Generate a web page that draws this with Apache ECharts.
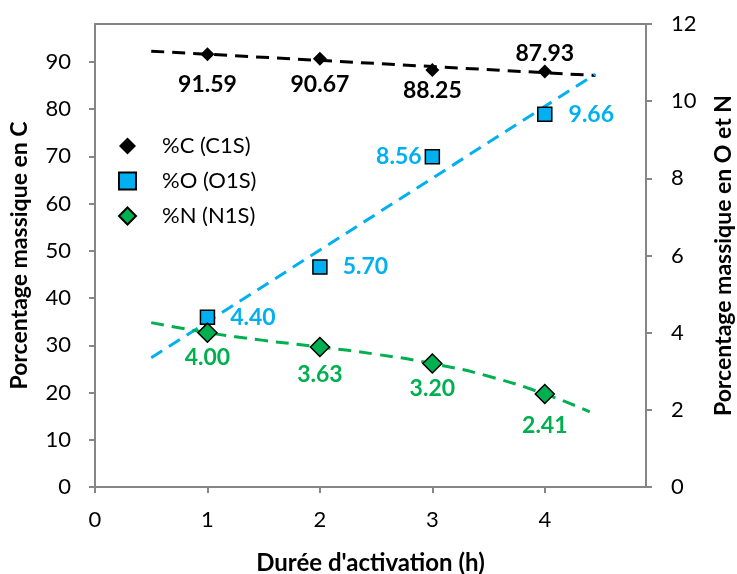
<!DOCTYPE html>
<html>
<head>
<meta charset="utf-8">
<script src="https://cdn.jsdelivr.net/npm/echarts@6/dist/echarts.min.js"></script>
<style>
html,body{margin:0;padding:0;background:#fff;}
#chart{width:737px;height:574px;}
</style>
</head>
<body>
<div id="chart"></div>
<script>
// ---- data ----
var hours = [1, 2, 3, 4];
var carbon = [91.59, 90.67, 88.25, 87.93];
var oxygen = [4.40, 5.70, 8.56, 9.66];
var nitrogen = [4.00, 3.63, 3.20, 2.41];
// trend lines
var trendCX = [0.5, 4.45];
var trendC = [92.25, 87.1];
var trendOX = [0.5, 4.45];
var trendO = [3.35, 10.7];
var trendNX = [0.5, 1, 1.5, 2, 2.5, 3, 3.5, 4, 4.4];
var trendN = [4.26, 4.00, 3.80, 3.63, 3.44, 3.20, 2.87, 2.41, 1.95];
var xTicks = [0, 1, 2, 3, 4];
var leftTicks = [0, 10, 20, 30, 40, 50, 60, 70, 80, 90];
var legendNames = ['%C (C1S)', '%O (O1S)', '%N (N1S)'];

var FONT = 'Lato';
var BLUE = '#00B0F0', GREEN = '#00B050';
var AX = '#868686';

function pairs(xs, ys){ return xs.map(function(x,i){ return [x, ys[i]]; }); }

var cLabel = [
  {position:'bottom', distance:12},
  {position:'bottom', distance:7},
  {position:'bottom', distance:2},
  {position:'top', distance:-1}
];
var oLabel = [
  {position:'right', distance:15},
  {position:'right', distance:15},
  {position:'left', distance:3},
  {position:'right', distance:16}
];
var nLabel = [
  {position:'bottom', distance:3},
  {position:'bottom', distance:6},
  {position:'bottom', distance:3},
  {position:'bottom', distance:10}
];

function pts(ys, lbls){
  return hours.map(function(h,i){ return {value:[h, ys[i]], label:lbls[i]}; });
}
function fmt(p){ return p.value[1].toFixed(2); }

var chart = echarts.init(document.getElementById('chart'), null, {renderer:'canvas'});
chart.setOption({
  animation:false,
  backgroundColor:'#fff',
  textStyle:{fontFamily:FONT},
  grid:{left:95, right:91, top:24, bottom:87, containLabel:false, outerBoundsMode:'none',
        show:true, borderColor:'#595959', borderWidth:1.3, backgroundColor:'transparent'},
  legend:{
    data:legendNames, orient:'vertical', left:113, top:130, itemGap:13,
    itemWidth:17, itemHeight:17,
    textStyle:{fontFamily:FONT, fontSize:22, color:'#000', padding:[0,0,0,21]}
  },
  xAxis:{
    type:'value', min:0, max:4.9, interval:1,
    name:"Durée d'activation (h)", nameLocation:'middle', nameGap:64,
    nameTextStyle:{fontFamily:FONT, fontSize:24, fontWeight:'bold', color:'#000'},
    axisLine:{show:true, lineStyle:{color:AX, width:2}},
    axisTick:{show:true, length:6, lineStyle:{color:AX, width:2}, customValues:xTicks},
    axisLabel:{fontFamily:FONT, fontSize:22, color:'#000', margin:22, customValues:xTicks},
    splitLine:{show:false}
  },
  yAxis:[{
    type:'value', min:0, max:98, interval:10, position:'left',
    name:'Porcentage massique en C', nameLocation:'middle', nameGap:64, nameRotate:90,
    nameTextStyle:{fontFamily:FONT, fontSize:23, fontWeight:'bold', color:'#000'},
    axisLine:{show:true, lineStyle:{color:AX, width:2}},
    axisTick:{show:true, length:6, lineStyle:{color:AX, width:2}, customValues:leftTicks},
    axisLabel:{fontFamily:FONT, fontSize:22, color:'#000', margin:24, customValues:leftTicks},
    splitLine:{show:false}
  },{
    type:'value', min:0, max:12, interval:2, position:'right',
    name:'Porcentage massique en O et N', nameLocation:'middle', nameGap:66, nameRotate:90,
    nameTextStyle:{fontFamily:FONT, fontSize:23, fontWeight:'bold', color:'#000'},
    axisLine:{show:true, lineStyle:{color:AX, width:2}},
    axisTick:{show:true, length:6, lineStyle:{color:AX, width:2}},
    axisLabel:{fontFamily:FONT, fontSize:22, color:'#000', margin:25},
    splitLine:{show:false}
  }],
  series:[
    {type:'line', yAxisIndex:0, data:pairs(trendCX, trendC), showSymbol:false, silent:true,
     lineStyle:{color:'#000', width:3, type:[13,8]}, z:1},
    {type:'line', yAxisIndex:1, data:pairs(trendOX, trendO), showSymbol:false, silent:true,
     lineStyle:{color:BLUE, width:3, type:[13,8]}, z:1},
    {type:'line', yAxisIndex:1, data:pairs(trendNX, trendN), showSymbol:false, smooth:true, silent:true,
     lineStyle:{color:GREEN, width:3, type:[13,8]}, z:1},
    {name:legendNames[0], type:'scatter', yAxisIndex:0, symbol:'diamond', symbolSize:14,
     itemStyle:{color:'#000', opacity:1}, data:pts(carbon, cLabel), z:5,
     label:{show:true, formatter:fmt, fontFamily:FONT, fontSize:23, fontWeight:'bold', color:'#000'}},
    {name:legendNames[1], type:'scatter', yAxisIndex:1, symbol:'rect', symbolSize:14,
     itemStyle:{color:BLUE, borderColor:'#000', borderWidth:1.5, opacity:1}, data:pts(oxygen, oLabel), z:5,
     label:{show:true, formatter:fmt, fontFamily:FONT, fontSize:23, fontWeight:'bold', color:BLUE}},
    {name:legendNames[2], type:'scatter', yAxisIndex:1, symbol:'diamond', symbolSize:19,
     itemStyle:{color:GREEN, borderColor:'#000', borderWidth:1.5, opacity:1}, data:pts(nitrogen, nLabel), z:5,
     label:{show:true, formatter:fmt, fontFamily:FONT, fontSize:23, fontWeight:'bold', color:GREEN}}
  ]
});
</script>
</body>
</html>
